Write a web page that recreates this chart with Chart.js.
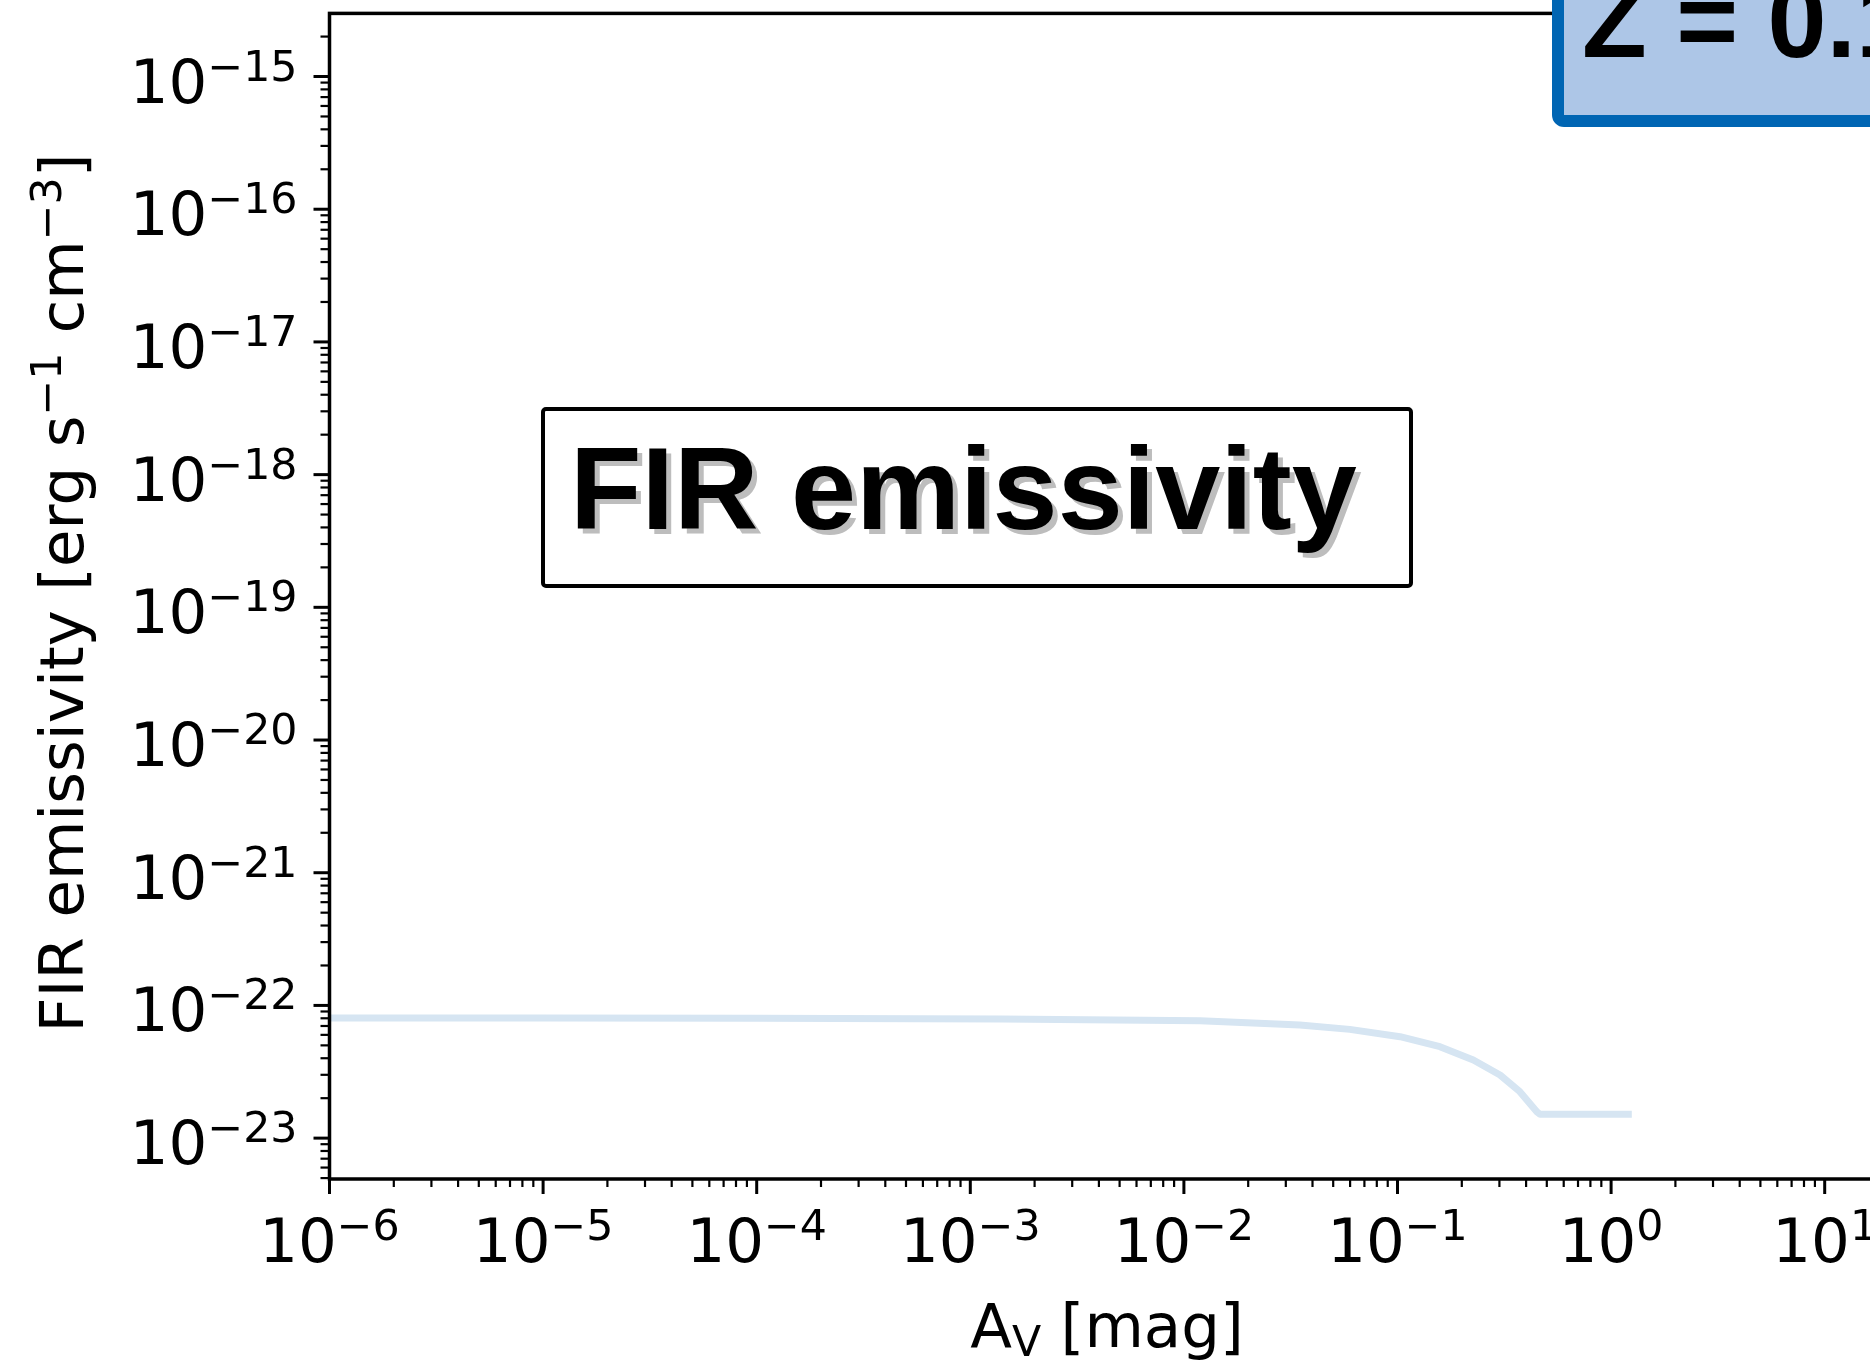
<!DOCTYPE html>
<html>
<head>
<meta charset="utf-8">
<script src="https://cdn.jsdelivr.net/npm/chart.js@4.4.1/dist/chart.umd.min.js"></script>
<style>
  html, body { margin: 0; padding: 0; background: #fff; overflow: hidden; }
  #wrap { width: 2100px; height: 1369px; }
</style>
</head>
<body>
<div id="wrap"><canvas id="firChart" width="2100" height="1369"></canvas></div>
<script>
// A_V [mag] along the curve
const avValues = [1e-6, 1e-5, 1e-4, 1.4e-3, 0.0119, 0.0349, 0.0598, 0.1028, 0.158, 0.2265, 0.302, 0.374, 0.449, 0.465, 1.25];
// FIR emissivity [erg s^-1 cm^-3]
const firValues = [8.05e-23, 8.05e-23, 8.0e-23, 7.91e-23, 7.67e-23, 7.11e-23, 6.6e-23, 5.81e-23, 4.89e-23, 3.88e-23, 2.99e-23, 2.24e-23, 1.58e-23, 1.51e-23, 1.51e-23];

// decade exponents that get a labelled tick
const xTickExps = [-6, -5, -4, -3, -2, -1, 0, 1, 2];
const yTickExps = [-23, -22, -21, -20, -19, -18, -17, -16, -15];

// axis limits
const xLimits = [1e-6, 1e2];
const yLimits = [4.92e-24, 2.99e-15];

const boxTitle = 'FIR emissivity';
const zLabel = 'Z = 0.1';

const MATH_FONT = '"DejaVu Sans", sans-serif';
const BASE = 61;          // label font size
const SMALL = BASE * 0.7; // super/subscript size

// pieces: [{t: text, s: 'sup' | 'sub' | undefined}]
function mathWidth(ctx, pieces) {
    let w = 0;
    pieces.forEach(p => {
        ctx.font = (p.s ? SMALL : BASE) + 'px ' + MATH_FONT;
        w += ctx.measureText(p.t).width;
    });
    return w;
}

function drawMath(ctx, pieces, x, y, align) {
    const w = mathWidth(ctx, pieces);
    let cx = align === 'right' ? x - w : align === 'center' ? x - w / 2 : x;
    ctx.textAlign = 'left';
    ctx.textBaseline = 'alphabetic';
    pieces.forEach(p => {
        ctx.font = (p.s ? SMALL : BASE) + 'px ' + MATH_FONT;
        let dy = 0;
        if (p.s === 'sup') dy = -22;
        if (p.s === 'sub') dy = 9;
        ctx.fillText(p.t, cx, y + dy);
        cx += ctx.measureText(p.t).width;
    });
}

function expLabel(e) {
    return [{t: '10'}, {t: (e < 0 ? '\u2212' : '') + Math.abs(e), s: 'sup'}];
}

function roundRect(ctx, x, y, w, h, r) {
    ctx.beginPath();
    ctx.moveTo(x + r, y);
    ctx.arcTo(x + w, y, x + w, y + h, r);
    ctx.arcTo(x + w, y + h, x, y + h, r);
    ctx.arcTo(x, y + h, x, y, r);
    ctx.arcTo(x, y, x + w, y, r);
    ctx.closePath();
}

const mplAxes = {
    id: 'mplAxes',
    afterDraw(chart) {
        const ctx = chart.ctx;
        const a = chart.chartArea;
        const xs = chart.scales.x;
        const ys = chart.scales.y;
        ctx.save();
        ctx.strokeStyle = '#000';
        ctx.fillStyle = '#000';
        ctx.lineCap = 'butt';

        // x ticks (major + minor)
        for (let e = -6; e <= 2; e++) {
            for (let m = 1; m <= 9; m++) {
                const v = m * Math.pow(10, e);
                if (v < xLimits[0] * 0.999 || v > xLimits[1] * 1.001) continue;
                const px = xs.getPixelForValue(v);
                ctx.lineWidth = m === 1 ? 3 : 2.2;
                ctx.beginPath();
                ctx.moveTo(px, a.bottom);
                ctx.lineTo(px, a.bottom + (m === 1 ? 15 : 8));
                ctx.stroke();
            }
        }
        // y ticks (major + minor)
        for (let e = -24; e <= -15; e++) {
            for (let m = 1; m <= 9; m++) {
                const v = m * Math.pow(10, e);
                if (v < yLimits[0] || v > yLimits[1]) continue;
                const py = ys.getPixelForValue(v);
                ctx.lineWidth = m === 1 ? 3 : 2.2;
                ctx.beginPath();
                ctx.moveTo(a.left - (m === 1 ? 16 : 9), py);
                ctx.lineTo(a.left, py);
                ctx.stroke();
            }
        }

        // frame
        ctx.lineWidth = 3.5;
        ctx.strokeRect(a.left, a.top, a.right - a.left, a.bottom - a.top);

        // tick labels
        xTickExps.forEach(e => {
            drawMath(ctx, expLabel(e), xs.getPixelForValue(Math.pow(10, e)), a.bottom + 83, 'center');
        });
        yTickExps.forEach(e => {
            drawMath(ctx, expLabel(e), a.left - 32, ys.getPixelForValue(Math.pow(10, e)) + 26, 'right');
        });

        // axis titles
        drawMath(ctx, [{t: 'A'}, {t: 'V', s: 'sub'}, {t: ' [mag]'}], 1107, 1347, 'center');
        ctx.save();
        ctx.translate(83, 593);
        ctx.rotate(-Math.PI / 2);
        drawMath(ctx, [{t: 'FIR emissivity [erg s'}, {t: '\u22121', s: 'sup'}, {t: ' cm'}, {t: '\u22123', s: 'sup'}, {t: ']'}], 0, 0, 'center');
        ctx.restore();

        // "FIR emissivity" inset box
        ctx.fillStyle = '#fff';
        ctx.lineWidth = 4;
        roundRect(ctx, 543, 409, 868, 177, 3);
        ctx.fill();
        ctx.stroke();
        ctx.font = 'bold 117px "Liberation Sans", Arial, sans-serif';
        ctx.textAlign = 'left';
        ctx.textBaseline = 'alphabetic';
        ctx.fillStyle = '#bdbdbd';
        ctx.fillText(boxTitle, 575, 534);
        ctx.fillStyle = '#000';
        ctx.fillText(boxTitle, 570, 529);

        // metallicity box, top right
        ctx.fillStyle = '#adc6e7';
        ctx.strokeStyle = '#0065b3';
        ctx.lineWidth = 12;
        roundRect(ctx, 1558, -80, 600, 201, 6);
        ctx.fill();
        ctx.stroke();
        ctx.fillStyle = '#000';
        ctx.font = 'bold 106px "Liberation Sans", Arial, sans-serif';
        ctx.fillText(zLabel, 1582, 57);

        ctx.restore();
    }
};

const points = avValues.map((v, i) => ({x: v, y: firValues[i]}));

new Chart(document.getElementById('firChart').getContext('2d'), {
    type: 'scatter',
    data: {
        datasets: [{
            data: points,
            showLine: true,
            borderColor: '#d6e5f2',
            borderWidth: 7,
            borderJoinStyle: 'round',
            pointRadius: 0,
            tension: 0,
            fill: false
        }]
    },
    options: {
        responsive: false,
        animation: false,
        devicePixelRatio: 1,
        layout: {
            padding: { left: 329.5, top: 13.4, right: 61.7, bottom: 190 }
        },
        plugins: {
            legend: { display: false },
            tooltip: { enabled: false }
        },
        scales: {
            x: { type: 'logarithmic', min: xLimits[0], max: xLimits[1], display: false },
            y: { type: 'logarithmic', min: yLimits[0], max: yLimits[1], display: false }
        }
    },
    plugins: [mplAxes]
});
</script>
</body>
</html>
